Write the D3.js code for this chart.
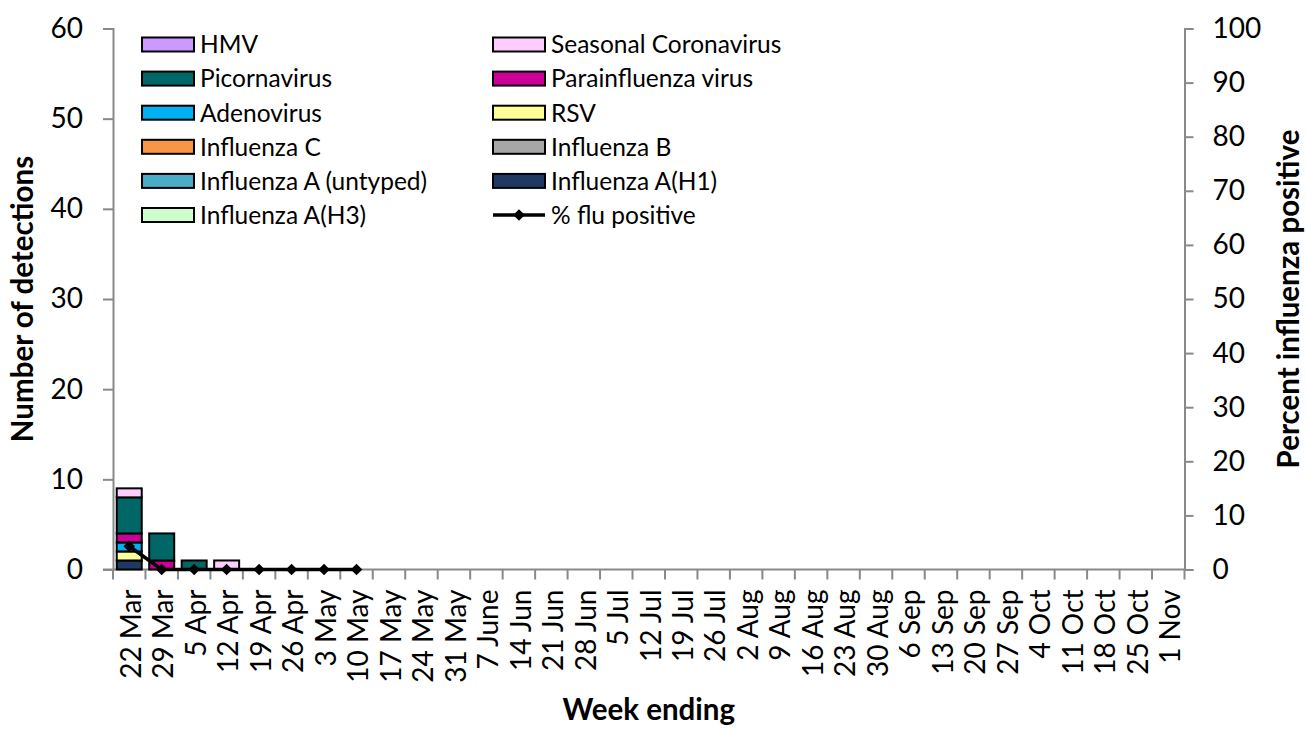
<!DOCTYPE html>
<html>
<head>
<meta charset="utf-8">
<script src="https://cdn.jsdelivr.net/npm/d3@7"></script>
<style>
  body { margin: 0; background: #fff; }
  svg text { font-family: Lato, "Noto Sans", sans-serif; fill: #000; }
</style>
</head>
<body>
<div id="chart"></div>
<script>
// week ending labels (x axis)
var weeks = ['22 Mar', '29 Mar', '5 Apr', '12 Apr', '19 Apr', '26 Apr', '3 May', '10 May', '17 May', '24 May',
	'31 May', '7 June', '14 Jun', '21 Jun', '28 Jun', '5 Jul', '12 Jul', '19 Jul', '26 Jul', '2 Aug', '9 Aug',
	'16 Aug', '23 Aug', '30 Aug', '6 Sep', '13 Sep', '20 Sep', '27 Sep', '4 Oct', '11 Oct', '18 Oct', '25 Oct', '1 Nov'];

// weeks that have been reported so far
var reported = ['22 Mar', '29 Mar', '5 Apr', '12 Apr', '19 Apr', '26 Apr', '3 May', '10 May'];

// detections per week (same order as reported)
var fluAH3 = [0, 0, 0, 0, 0, 0, 0, 0];
var fluAH1 = [1, 0, 0, 0, 0, 0, 0, 0];
var fluAUntyped = [0, 0, 0, 0, 0, 0, 0, 0];
var fluB = [0, 0, 0, 0, 0, 0, 0, 0];
var fluC = [0, 0, 0, 0, 0, 0, 0, 0];
var rsv = [1, 0, 0, 0, 0, 0, 0, 0];
var adenovirus = [1, 0, 0, 0, 0, 0, 0, 0];
var parainfluenza = [1, 1, 0, 0, 0, 0, 0, 0];
var picornavirus = [4, 3, 1, 0, 0, 0, 0, 0];
var seasonalCorona = [1, 0, 0, 1, 0, 0, 0, 0];
var hmv = [0, 0, 0, 0, 0, 0, 0, 0];

// % flu positive (right axis)
var fluPositive = [4.3, 0, 0, 0, 0, 0, 0, 0];

var leftTicks = [0, 10, 20, 30, 40, 50, 60];
var rightTicks = [0, 10, 20, 30, 40, 50, 60, 70, 80, 90, 100];

// stack order bottom -> top
var series = [
	{ key: 'Influenza A(H3)', values: fluAH3, color: '#ccffcc' },
	{ key: 'Influenza A(H1)', values: fluAH1, color: '#1f3864' },
	{ key: 'Influenza A (untyped)', values: fluAUntyped, color: '#4bacc6' },
	{ key: 'Influenza B', values: fluB, color: '#a6a6a6' },
	{ key: 'Influenza C', values: fluC, color: '#f79646' },
	{ key: 'RSV', values: rsv, color: '#ffff99' },
	{ key: 'Adenovirus', values: adenovirus, color: '#00b0f0' },
	{ key: 'Parainfluenza virus', values: parainfluenza, color: '#cc0099' },
	{ key: 'Picornavirus', values: picornavirus, color: '#006666' },
	{ key: 'Seasonal Coronavirus', values: seasonalCorona, color: '#ffccff' },
	{ key: 'HMV', values: hmv, color: '#cc99ff' }
];

// legend order (two columns, row by row)
var legendOrder = ['HMV', 'Seasonal Coronavirus', 'Picornavirus', 'Parainfluenza virus', 'Adenovirus', 'RSV',
	'Influenza C', 'Influenza B', 'Influenza A (untyped)', 'Influenza A(H1)', 'Influenza A(H3)', '% flu positive'];

var W = 1306, H = 729;
var area = { left: 113, right: 1184.5, top: 28.5, bottom: 569.5 };
var axisColor = '#898989';

var svg = d3.select('#chart').append('svg').attr('width', W).attr('height', H);

var x = d3.scaleBand().domain(weeks).range([area.left, area.right]).paddingInner(0).paddingOuter(0);
var y = d3.scaleLinear().domain([0, 60]).range([area.bottom, area.top]);
var y0 = d3.scaleLinear().domain([0, 100]).range([area.bottom, area.top]);

// build table for stacking
var table = reported.map(function (w, i) {
	var row = { week: w };
	series.forEach(function (s) { row[s.key] = s.values[i]; });
	return row;
});
var stacked = d3.stack().keys(series.map(function (s) { return s.key; }))(table);
var colorOf = {};
series.forEach(function (s) { colorOf[s.key] = s.color; });

// 画坐标轴
function styleAxis(g) {
	g.select('.domain').attr('stroke', axisColor).attr('stroke-width', 2);
	g.selectAll('.tick line').attr('stroke', axisColor).attr('stroke-width', 2);
	g.selectAll('.tick text').style('font-size', '28px').attr('fill', '#000');
}

var gy = svg.append('g').attr('transform', 'translate(' + area.left + ',0)')
	.call(d3.axisLeft(y).tickValues(leftTicks).tickSize(10).tickSizeOuter(10).tickPadding(20));
styleAxis(gy);

var gy0 = svg.append('g').attr('transform', 'translate(' + area.right + ',0)')
	.call(d3.axisRight(y0).tickValues(rightTicks).tickSize(9).tickSizeOuter(9).tickPadding(19));
styleAxis(gy0);

var tickX = weeks.map(function (w) { return x(w); }).concat([area.right]);
var gx = svg.append('g').attr('class', 'x-axis');
gx.append('line').attr('x1', area.left - 10).attr('x2', area.right)
	.attr('y1', area.bottom).attr('y2', area.bottom)
	.attr('stroke', axisColor).attr('stroke-width', 2);
gx.selectAll('line.tk').data(tickX).enter().append('line').attr('class', 'tk')
	.attr('x1', function (d) { return d; }).attr('x2', function (d) { return d; })
	.attr('y1', area.bottom).attr('y2', area.bottom + 10)
	.attr('stroke', axisColor).attr('stroke-width', 2);
gx.selectAll('text').data(weeks).enter().append('text')
	.attr('transform', function (d) {
		return 'translate(' + (x(d) + x.bandwidth() / 2) + ',' + (area.bottom + 20) + ') rotate(-90)';
	})
	.attr('text-anchor', 'end').attr('dy', '0.42em')
	.style('font-size', '28px')
	.text(function (d) { return d; });

// bars
var bw = 25;
svg.append('g').selectAll('g').data(stacked).enter().append('g')
	.attr('fill', function (d) { return colorOf[d.key]; })
	.selectAll('rect').data(function (d) { return d.filter(function (p) { return p[1] - p[0] > 0; }); })
	.enter().append('rect')
	.attr('x', function (d) { return x(d.data.week) + (x.bandwidth() - bw) / 2; })
	.attr('width', bw)
	.attr('y', function (d) { return y(d[1]); })
	.attr('height', function (d) { return y(d[0]) - y(d[1]); })
	.attr('stroke', '#000').attr('stroke-width', 2);

// % flu positive line
var line = d3.line()
	.x(function (d, i) { return x(reported[i]) + x.bandwidth() / 2; })
	.y(function (d) { return y0(d); });
svg.append('path').datum(fluPositive).attr('d', line)
	.attr('fill', 'none').attr('stroke', '#000').attr('stroke-width', 3.5);
var diamond = d3.symbol().type(d3.symbolDiamond2).size(85);
svg.append('g').selectAll('path').data(fluPositive).enter().append('path')
	.attr('d', diamond)
	.attr('transform', function (d, i) {
		return 'translate(' + (x(reported[i]) + x.bandwidth() / 2) + ',' + y0(d) + ')';
	})
	.attr('fill', '#000');

// legend
var lg = svg.append('g').attr('class', 'legend');
var colX = [142, 493], rowY0 = 44.5, rowH = 34.1, swW = 52, swH = 14;
legendOrder.forEach(function (name, i) {
	var cx = colX[i % 2], cy = rowY0 + Math.floor(i / 2) * rowH;
	if (name === '% flu positive') {
		lg.append('line').attr('x1', cx).attr('x2', cx + swW).attr('y1', cy).attr('y2', cy)
			.attr('stroke', '#000').attr('stroke-width', 3.5);
		lg.append('path').attr('d', diamond).attr('transform', 'translate(' + (cx + swW / 2) + ',' + cy + ')');
	} else {
		lg.append('rect').attr('x', cx).attr('y', cy - swH / 2).attr('width', swW).attr('height', swH)
			.attr('fill', colorOf[name]).attr('stroke', '#000').attr('stroke-width', 2);
	}
	lg.append('text').attr('x', cx + swW + 6).attr('y', cy).attr('dy', '0.36em')
		.style('font-size', '24.5px').text(name);
});

// 坐标轴标题
svg.append('text').attr('transform', 'translate(' + ((area.left + area.right) / 2) + ',720)')
	.attr('text-anchor', 'middle').style('font-size', '29.5px').style('font-weight', 'bold')
	.text('Week ending');
svg.append('text').attr('transform', 'translate(33,' + ((area.top + area.bottom) / 2) + ') rotate(-90)')
	.attr('text-anchor', 'middle').style('font-size', '29.5px').style('font-weight', 'bold')
	.text('Number of detections');
svg.append('text').attr('transform', 'translate(1299,' + ((area.top + area.bottom) / 2) + ') rotate(-90)')
	.attr('text-anchor', 'middle').style('font-size', '29.5px').style('font-weight', 'bold')
	.text('Percent influenza positive');
</script>
</body>
</html>
